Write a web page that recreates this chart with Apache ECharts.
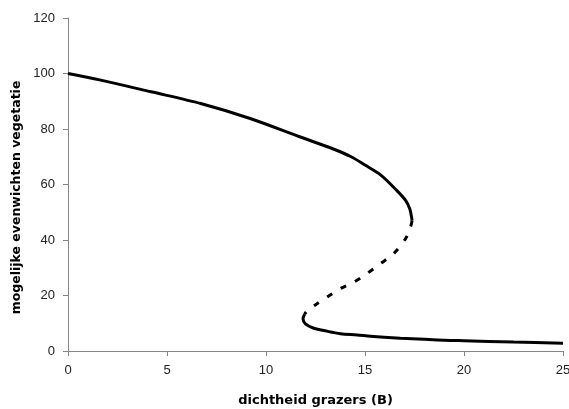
<!DOCTYPE html>
<html>
<head>
<meta charset="utf-8">
<script src="https://cdn.jsdelivr.net/npm/echarts@6/dist/echarts.min.js"></script>
<style>html,body{margin:0;padding:0;background:#fff;}#c{width:569px;height:409px;}</style>
</head>
<body>
<div id="c"></div>
<script>
// Stable upper branch (solid)
var upperX = [0, 1.6, 4.2, 6.7, 9.2, 11.7, 13.4, 14.3, 15.0, 15.8, 16.6, 17.05, 17.26, 17.35, 17.38];
var upperY = [100, 97.7, 93.4, 89.2, 83.8, 77.2, 72.8, 70.0, 67.0, 63.4, 57.9, 54.3, 51.3, 48.3, 47.0];
// Unstable middle branch (dashed)
var midX = [17.38, 17.3, 17.05, 16.45, 15.78, 15.1, 14.43, 13.76, 13.08, 12.49, 12.1, 11.95];
var midY = [47.0, 44.7, 40.5, 35.1, 31.5, 27.9, 24.8, 22.5, 19.4, 16.6, 14.6, 13.3];
// Stable lower branch (solid)
var lowerX = [11.95, 11.87, 11.99, 12.41, 12.91, 13.76, 14.6, 15.28, 16.79, 18.0, 19.32, 20.0, 22.5, 25.0];
var lowerY = [13.3, 11.6, 9.8, 8.2, 7.4, 6.2, 5.8, 5.3, 4.6, 4.2, 3.8, 3.7, 3.2, 2.8];

var xTicks = [0, 5, 10, 15, 20, 25];
var yTicks = [0, 20, 40, 60, 80, 100, 120];
var xTitle = 'dichtheid grazers (B)';
var yTitle = 'mogelijke evenwichten vegetatie';

function pairs(xs, ys) { return xs.map(function (x, i) { return [x, ys[i]]; }); }

var chart = echarts.init(document.getElementById('c'), null, {renderer: 'canvas'});
var axisCol = '#868686';
var font = 'Liberation Sans, Arial, sans-serif';
var titleFont = 'DejaVu Sans, sans-serif';
chart.setOption({
  animation: false,
  backgroundColor: '#ffffff',
  grid: {left: 68, right: 6, top: 18, bottom: 58, containLabel: false, outerBoundsMode: 'none'},
  xAxis: {
    type: 'value', min: xTicks[0], max: xTicks[xTicks.length - 1], interval: 5,
    name: xTitle, nameLocation: 'middle', nameGap: 43,
    nameTextStyle: {fontFamily: titleFont, fontWeight: 'bold', fontSize: 13, color: '#000'},
    axisLine: {lineStyle: {color: axisCol, width: 1}},
    axisTick: {show: true, inside: false, length: 5, lineStyle: {color: axisCol}},
    axisLabel: {fontFamily: font, fontSize: 13, color: '#222', margin: 13},
    splitLine: {show: false}
  },
  yAxis: {
    type: 'value', min: yTicks[0], max: yTicks[yTicks.length - 1], interval: 20,
    axisLine: {show: true, lineStyle: {color: axisCol, width: 1}},
    axisTick: {show: true, inside: false, length: 5, lineStyle: {color: axisCol}},
    axisLabel: {fontFamily: font, fontSize: 13, color: '#222', margin: 13},
    splitLine: {show: false}
  },
  graphic: [{
    type: 'text', x: 17, y: 197.5, rotation: Math.PI / 2,
    style: {text: yTitle, align: 'center', verticalAlign: 'middle',
            fontFamily: titleFont, fontWeight: 'bold', fontSize: 12.5, fill: '#000'}
  }],
  series: [
    {type: 'line', data: pairs(upperX, upperY), showSymbol: false, smooth: 0.3,
     lineStyle: {color: '#000', width: 3, type: 'solid'}},
    {type: 'line', data: pairs(midX, midY), showSymbol: false, smooth: 0.3,
     lineStyle: {color: '#000', width: 3, type: [6, 10]}},
    {type: 'line', data: pairs(lowerX, lowerY), showSymbol: false, smooth: 0.3,
     lineStyle: {color: '#000', width: 3, type: 'solid'}}
  ]
});
</script>
</body>
</html>
